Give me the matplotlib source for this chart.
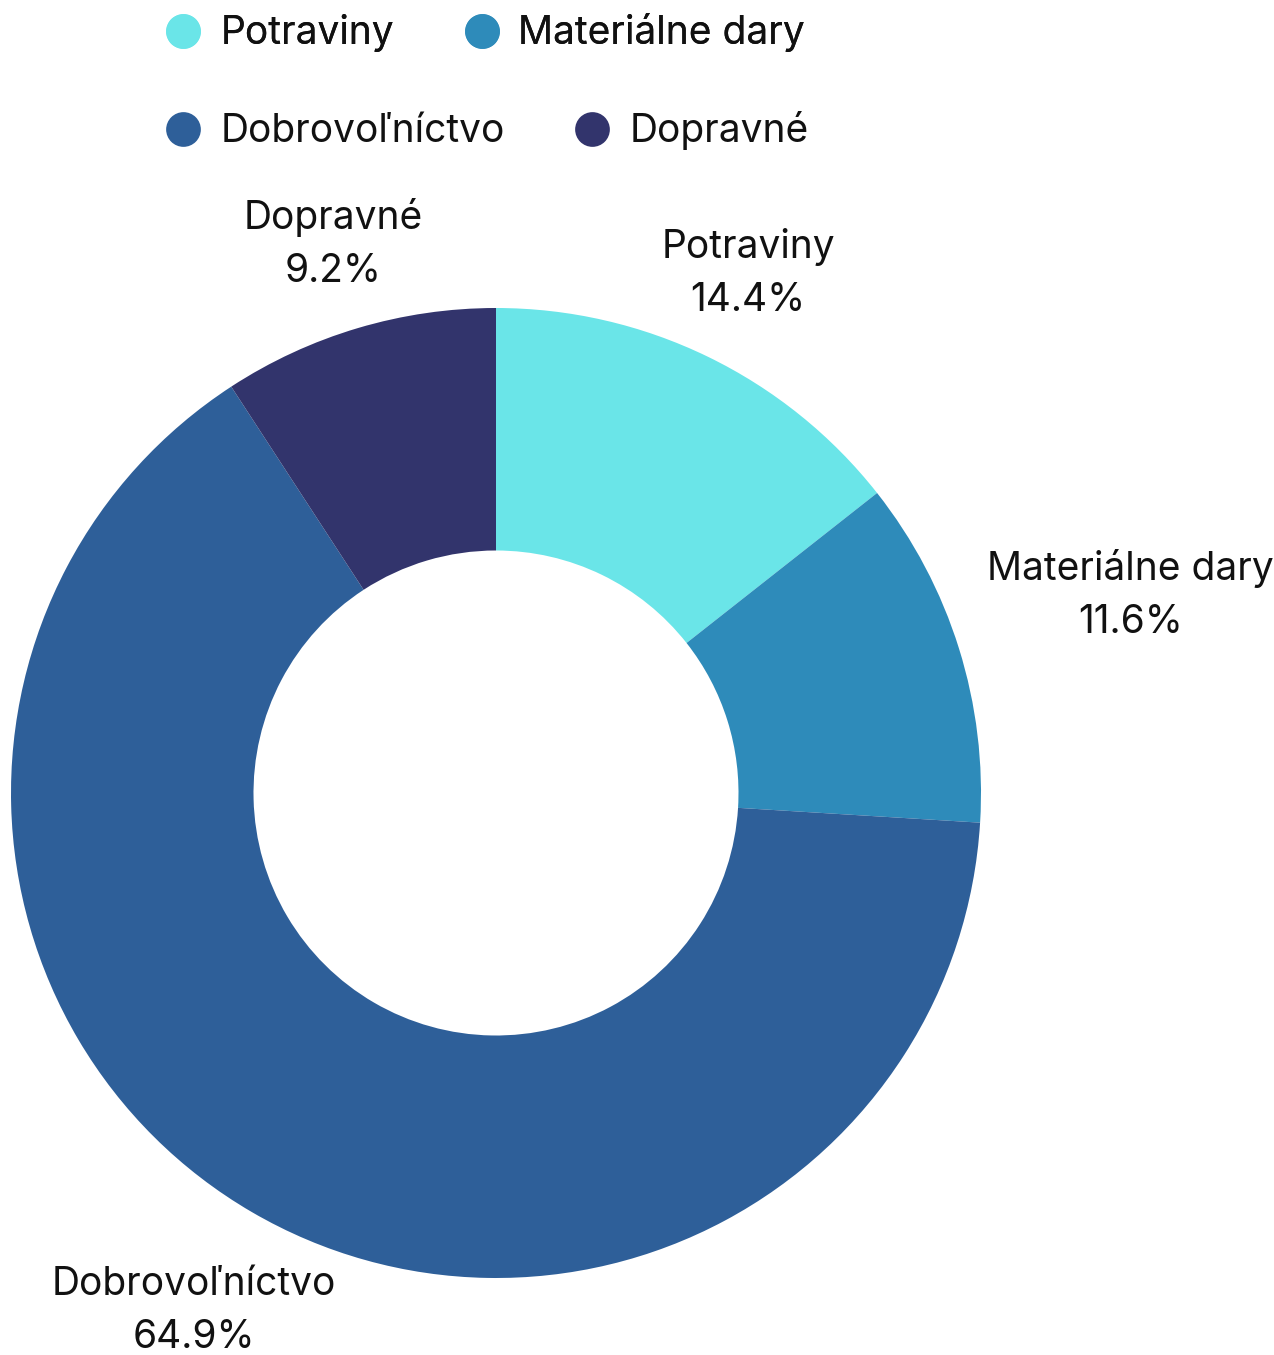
import numpy as np
import matplotlib.pyplot as plt
from matplotlib.lines import Line2D

plt.rcParams['font.family'] = ['Inter', 'DejaVu Sans']

categories = ['Potraviny', 'Materiálne dary', 'Dobrovoľníctvo', 'Dopravné']
shares = [14.4, 11.6, 64.9, 9.2]
colors = ['#6AE5E8', '#2E8BBA', '#2E5F99', '#32346C']
# how far out each outside label sits (in radii)
label_dist = [1.19, 1.37, 1.237, 1.18]

W, H = 1274, 1355
fig = plt.figure(figsize=(W / 100, H / 100), dpi=100)
# donut: centre (496, 793) px, radius 485 px
cx, cy, r = 496, 793, 485
ax = fig.add_axes([(cx - r) / W, (H - cy - r) / H, 2 * r / W, 2 * r / H])

wedges, _ = ax.pie(shares, colors=colors, startangle=90, counterclock=False,
                   radius=1, wedgeprops=dict(width=0.5, linewidth=0))
ax.set_xlim(-1, 1)
ax.set_ylim(-1, 1)
ax.set_aspect('equal')

for w, name, val, d in zip(wedges, categories, shares, label_dist):
    ang = np.deg2rad((w.theta1 + w.theta2) / 2)
    ax.text(d * np.cos(ang), d * np.sin(ang), f'{name}\n{val}%',
            ha='center', va='center', fontsize=28, color='#111111',
            linespacing=1.55, clip_on=False)

# legend rows, as two separate rows like the original
def row(names, cols, y):
    handles = [Line2D([], [], ls='', marker='o', markersize=25,
                      markerfacecolor=c, markeredgewidth=0) for c in cols]
    leg = fig.legend(handles, names, loc='center left', ncol=2,
                     bbox_to_anchor=(164 / W, 1 - y / H), frameon=False,
                     fontsize=28, handlelength=1.0, handletextpad=0.45,
                     columnspacing=1.75, borderpad=0, borderaxespad=0)
    for t in leg.get_texts():
        t.set_color('#111111')
    return leg

leg1 = row(categories[:2], colors[:2], 33)
fig.add_artist(leg1)
row(categories[2:], colors[2:], 131)

fig.savefig('out.png', dpi=100, facecolor='white')
